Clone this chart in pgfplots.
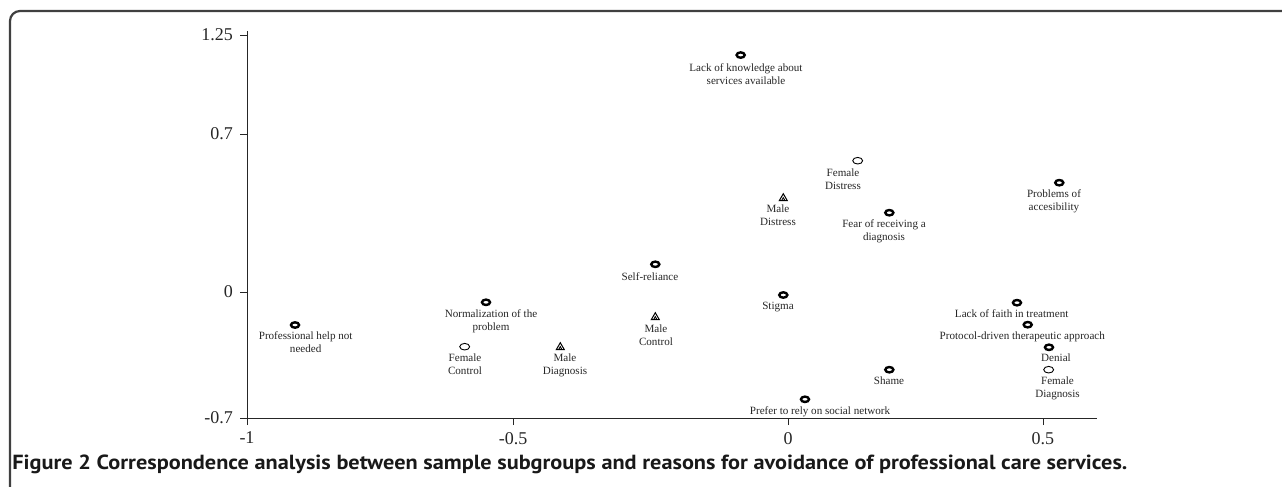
\documentclass[border=0pt]{standalone}
\usepackage{pgfplots}
\pgfplotsset{compat=1.18}
\usepackage{fontspec}
\setmainfont{Liberation Serif}
\newfontfamily\capfont{PT Sans}
\newcommand{\labfont}{\fontsize{5.55}{6.5}\selectfont}
\begin{document}
\begin{tikzpicture}
\useasboundingbox (0,0) rectangle (641pt,-243.5pt);
\draw[line width=1.1pt, black!75, rounded corners=5pt] (5pt,-243.5pt) -- (5pt,-5.5pt) -- (641pt,-5.5pt);
\begin{axis}[
  at={(123.5pt,-209pt)}, anchor=south west,
  x=265.33pt, y=98.2pt,
  xmin=-1, xmax=0.6017, ymin=-0.7, ymax=1.2705,
  axis lines*=left,
  axis line style={line width=0.5pt, black!85},
  tick align=outside, major tick length=3.5pt,
  tick style={line width=0.45pt, black!85},
  xtick={-1,-0.4987,0.0195,0.5}, xticklabels={-1,-0.5,0,0.5},
  ytick={-0.7,-0.0585,0.746,1.25}, yticklabels={-0.7,0,0.7,1.25},
  ticklabel style={font=\fontsize{9}{10}\selectfont, text=black!85},
  clip=false,
]
% reasons (bold ellipses)
\addplot[only marks, mark=o, mark size=1.35pt, mark options={line width=1.2pt, xscale=1.5, draw=black}] coordinates {
(-0.0697,1.148) (0.2104,0.3453) (0.5307,0.4981) (0.0106,-0.0737)
(0.451,-0.1129) (0.4712,-0.2249) (0.5113,-0.34) (0.2104,-0.4541)
(0.0515,-0.6048) (-0.2306,0.0826) (-0.5496,-0.1109) (-0.9095,-0.2265)
};
% female groups
\addplot[only marks, mark=o, mark size=1.65pt, mark options={line width=0.45pt, xscale=1.5, draw=black}] coordinates {
(0.1508,0.610) (0.5107,-0.4541) (-0.5898,-0.337)
};
% male groups
\addplot[only marks, mark=triangle, mark size=2.3pt, mark options={line width=0.5pt, draw=black}] coordinates {
(0.0106,0.4186) (-0.2306,-0.1873) (-0.4096,-0.34)
};
\addplot[only marks, mark=triangle, mark size=0.9pt, mark options={line width=0.4pt, draw=black, yshift=-0.5pt}] coordinates {
(0.0106,0.4186) (-0.2306,-0.1873) (-0.4096,-0.34)
};
% labels
\addplot[only marks, mark=none, nodes near coords, point meta=explicit symbolic,
  nodes near coords style={anchor=north, inner sep=0pt, align=center, font=\labfont, text=black!85}] coordinates {
(-0.0597,1.1075) [Lack of knowledge about\\services available]
(0.1231,0.5729) [Female\\Distress]
(0.0006,0.3861) [Male\\Distress]
(0.2004,0.3117) [Fear of receiving a\\diagnosis]
(0.5207,0.4645) [Problems of\\accesibility]
(0.0006,-0.1058) [Stigma]
(0.441,-0.1465) [Lack of faith in treatment]
(0.461,-0.257) [Protocol-driven therapeutic approach]
(0.5245,-0.3706) [Denial]
(0.5273,-0.4877) [Female\\Diagnosis]
(0.2098,-0.4862) [Shame]
(0.0798,-0.6389) [Prefer to rely on social network]
(-0.2406,0.0434) [Self-reliance]
(-0.5402,-0.1465) [Normalization of the\\problem]
(-0.2293,-0.2249) [Male\\Control]
(-0.5892,-0.3706) [Female\\Control]
(-0.4008,-0.369) [Male\\Diagnosis]
(-0.8894,-0.257) [Professional help not\\needed]
};
\end{axis}
\node[anchor=base west, inner sep=0pt, text=black!90] at (6pt,-234.5pt) {\resizebox{557.5pt}{7.3pt}{\capfont\bfseries Figure 2 Correspondence analysis between sample subgroups and reasons for avoidance of professional care services.}};
\end{tikzpicture}
\end{document}
